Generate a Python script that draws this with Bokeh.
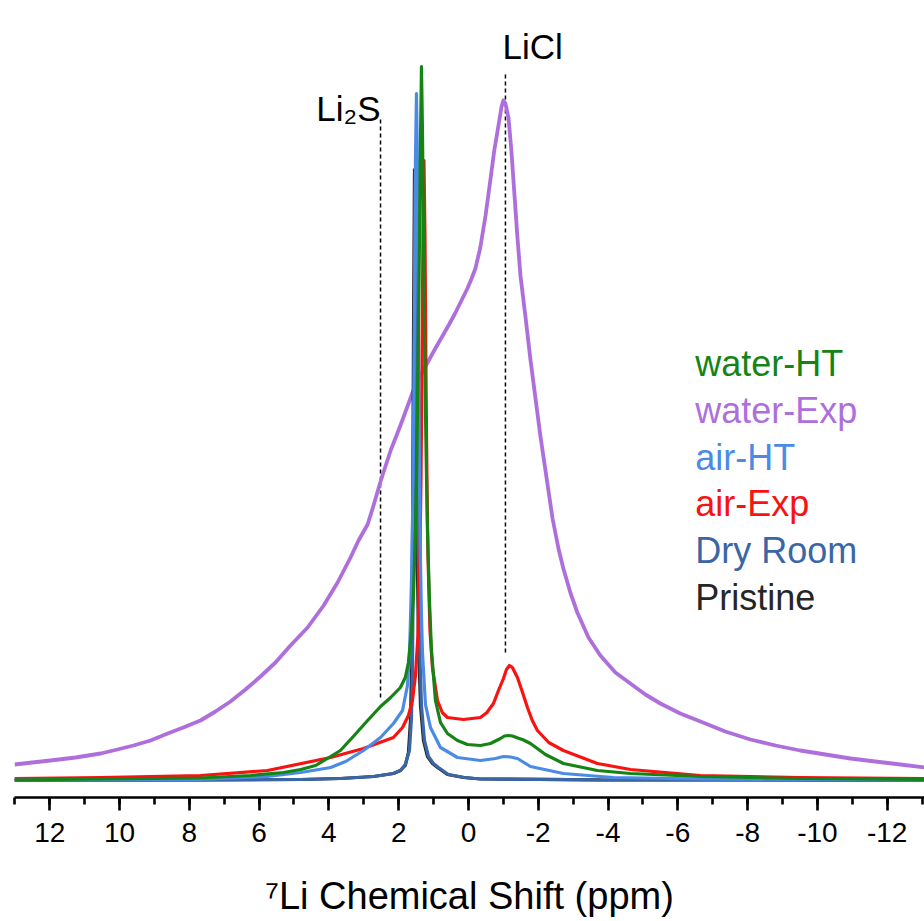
from bokeh.plotting import figure
from bokeh.models import Range1d, SingleIntervalTicker, Label, CustomJSTickFormatter
from bokeh.embed import file_html
from bokeh.resources import INLINE

# ---------------- data ----------------
# x: 7Li chemical shift (ppm); y: intensity (arbitrary units)
water_exp_ppm = [13.01, 12.50, 11.98, 11.26, 10.54, 10.06, 9.60, 9.11, 8.62, 8.17,
                 7.68, 7.25, 6.82, 6.39, 5.96, 5.53, 5.10, 4.61, 4.15, 3.75,
                 3.38, 3.15, 2.89, 2.72, 2.52, 2.23, 1.95, 1.58, 1.38, 1.17,
                 0.95, 0.72, 0.54, 0.37, 0.20, 0.03, -0.09, -0.20, -0.34, -0.49,
                 -0.63, -0.74, -0.86, -0.95, -1.00, -1.06, -1.15, -1.23, -1.32, -1.40,
                 -1.49, -1.63, -1.78, -2.06, -2.41, -2.58, -2.72, -2.92, -3.12, -3.44,
                 -3.78, -4.21, -4.64, -5.07, -5.50, -6.07, -6.65, -7.36, -8.08, -8.80,
                 -9.51, -10.23, -10.95, -11.66, -12.38, -13.07]
water_exp_int = [16, 18, 20, 23, 27, 31, 35, 40, 47, 53,
                 60, 69, 79, 91, 104, 118, 135, 153, 175, 198,
                 223, 240, 256, 275, 299, 330, 355, 390, 405, 418,
                 432, 446, 457, 468, 480, 492, 502, 512, 533, 565,
                 601, 630, 655, 674, 680, 677, 662, 630, 585, 545,
                 505, 465, 420, 345, 262, 232, 212, 188, 168, 143,
                 125, 108, 97, 86, 77, 67, 59, 49, 41, 35,
                 30, 26, 22, 19, 16, 13]

water_ht_ppm = [13.01, 10.54, 7.68, 6.25, 5.30, 4.81, 4.38, 3.95, 3.67, 3.30,
                2.89, 2.52, 2.23, 1.95, 1.81, 1.72, 1.633, 1.576, 1.519, 1.490,
                1.461, 1.433, 1.404, 1.375, 1.347, 1.318, 1.289, 1.261, 1.232, 1.203,
                1.175, 1.117, 1.060, 0.946, 0.802, 0.602, 0.315, 0.029, -0.344, -0.630,
                -0.917, -1.03, -1.146, -1.26, -1.375, -1.577, -1.777, -2.206, -2.722, -3.696,
                -4.642, -6.648, -9.513, -13.066]
water_ht_int = [0.5, 1.5, 2.5, 5, 8, 11, 15, 24, 30, 44,
                60, 74, 83, 93, 103, 118, 150, 185, 250, 300,
                370, 450, 540, 640, 714, 650, 550, 455, 370, 305,
                250, 180, 130, 80, 58, 47, 40, 36, 35, 37,
                42, 44.5, 45, 44.5, 43, 40.5, 37, 26, 17, 10,
                7, 4, 2, 1]

air_ht_ppm = [13.01, 7.68, 5.76, 4.81, 3.95, 3.52, 3.01, 2.52, 2.15, 1.89,
              1.748, 1.691, 1.662, 1.633, 1.605, 1.576, 1.547, 1.519, 1.490, 1.461,
              1.433, 1.404, 1.375, 1.347, 1.318, 1.232, 1.089, 0.802, 0.315, -0.344,
              -0.774, -1.003, -1.20, -1.404, -1.777, -2.722, -4.155, -6.648, -13.066]
air_ht_int = [0.5, 1, 4, 8, 13, 19, 30, 43, 57, 70,
              95, 125, 160, 200, 255, 340, 470, 620, 687, 615,
              445, 310, 220, 165, 128, 76, 53, 33, 23, 20,
              22, 24, 23.5, 22, 14, 7, 3, 1.5, 0.5]

air_exp_ppm = [13.01, 10.54, 7.68, 5.76, 3.95, 3.01, 2.15, 1.89, 1.72, 1.605,
               1.519, 1.447, 1.390, 1.361, 1.332, 1.304, 1.275, 1.246, 1.218, 1.189,
               1.160, 1.103, 1.032, 0.888, 0.75, 0.602, 0.143, -0.344, -0.53, -0.716,
               -0.86, -1.003, -1.09, -1.175, -1.26, -1.404, -1.55, -1.691, -1.83, -1.977,
               -2.30, -2.722, -3.696, -4.642, -6.648, -9.513, -13.066]
air_exp_int = [2, 3, 5, 10, 23, 32, 43, 53, 65, 80,
               105, 145, 225, 300, 410, 545, 620, 545, 410, 300,
               225, 150, 113, 80, 68, 63, 61, 63, 68, 77,
               90, 102, 111, 115, 113, 103, 88, 73, 60, 50,
               38, 30, 17, 11, 5, 3, 2]

dry_room_ppm = [13.01, 7.68, 4.81, 3.67, 2.72, 2.15, 1.95, 1.81, 1.691, 1.633,
                1.605, 1.576, 1.547, 1.519, 1.490, 1.461, 1.433, 1.404, 1.347, 1.261,
                1.146, 1.003, 0.860, 0.573, 0.115, -0.344, -3.782, -13.066]
dry_room_int = [0.3, 0.6, 1, 2, 4, 7, 10, 16, 30, 62,
                110, 230, 430, 600, 490, 330, 210, 140, 75, 40,
                24, 17, 13, 6, 3, 1.5, 0.7, 0.3]

pristine_ppm = [13.01, 7.68, 4.81, 3.67, 2.72, 2.15, 1.95, 1.81, 1.72, 1.662,
                1.633, 1.605, 1.576, 1.547, 1.519, 1.490, 1.461, 1.433, 1.375, 1.289,
                1.175, 1.032, 0.888, 0.602, 0.143, -0.344, -3.782, -13.066]
pristine_int = [0.3, 0.6, 1, 2, 4, 7, 10, 15, 28, 60,
                110, 230, 440, 612, 500, 330, 210, 140, 75, 40,
                24, 17, 13, 6, 3, 1.5, 0.7, 0.3]

# reference lines (Li2S, LiCl)
ref_names = ["Li\u2082S", "LiCl"]
ref_ppm = [2.52, -1.06]
ref_bottom = [83, 128]
ref_top = [663, 708]

legend_names = ["water-HT", "water-Exp", "air-HT", "air-Exp", "Dry Room", "Pristine"]
tick_interval = 2

# ---------------- styles ----------------
C_WHT = "#148414"
C_WEXP = "#ae6fdd"
C_AHT = "#4b8be6"
C_AEXP = "#f81212"
C_DRY = "#3b66a6"
C_PRI = "#262626"
legend_colors = [C_WHT, C_WEXP, C_AHT, C_AEXP, C_DRY, C_PRI]
FONT = "Liberation Sans"

p = figure(width=924, height=921, output_backend="svg", toolbar_location=None,
           x_range=Range1d(13.01, -13.07), y_range=Range1d(-17, 780),
           y_axis_location=None,
           min_border_left=14, min_border_right=0, min_border_top=0,
           min_border_bottom=124)
p.outline_line_color = None
p.xgrid.grid_line_color = None
p.ygrid.grid_line_color = None
p.background_fill_color = "white"
p.border_fill_color = "white"

ax = p.xaxis[0]
ax.ticker = SingleIntervalTicker(interval=tick_interval, num_minor_ticks=2)
ax.formatter = CustomJSTickFormatter(code="return String(Math.round(tick));")
ax.axis_line_width = 2.6
ax.axis_line_color = "black"
ax.major_tick_in = 0
ax.major_tick_out = 13
ax.major_tick_line_width = 2.6
ax.major_tick_line_color = "black"
ax.minor_tick_in = 0
ax.minor_tick_out = 7
ax.minor_tick_line_width = 2.6
ax.minor_tick_line_color = "black"
ax.major_label_text_font = FONT
ax.major_label_text_font_size = "28px"
ax.major_label_text_color = "black"
ax.major_label_standoff = 12
ax.axis_label = "\u2077Li Chemical Shift (ppm)"
ax.axis_label_text_font = FONT
ax.axis_label_text_font_size = "38px"
ax.axis_label_text_font_style = "normal"
ax.axis_label_text_color = "black"
ax.axis_label_standoff = 30

# reference dashed lines
p.segment(x0=ref_ppm, y0=ref_bottom, x1=ref_ppm, y1=ref_top,
          line_color="black", line_width=1.5, line_dash="4 3")

# spectra
p.line(water_exp_ppm, water_exp_int, line_color=C_WEXP, line_width=3.8,
       line_join="round")
p.line(pristine_ppm, pristine_int, line_color=C_PRI, line_width=3.2)
p.line(dry_room_ppm, dry_room_int, line_color=C_DRY, line_width=3.2)
p.line(air_exp_ppm, air_exp_int, line_color=C_AEXP, line_width=3.2, line_join="round")
p.line(air_ht_ppm, air_ht_int, line_color=C_AHT, line_width=3.2, line_join="round")
p.line(water_ht_ppm, water_ht_int, line_color=C_WHT, line_width=3.2, line_join="round")

# reference labels
p.add_layout(Label(x=ref_ppm[0], y=ref_top[0], x_offset=0, y_offset=9,
                   text=ref_names[0], text_align="right", text_baseline="alphabetic",
                   text_font=FONT, text_font_size="35px", text_color="black"))
p.add_layout(Label(x=ref_ppm[1], y=ref_top[1], x_offset=-3, y_offset=26,
                   text=ref_names[1], text_align="left", text_baseline="alphabetic",
                   text_font=FONT, text_font_size="35px", text_color="black"))

# legend (text only, coloured)
leg_x = -6.50
leg_y0 = 417
leg_step = 46.8
for i, (name, col) in enumerate(zip(legend_names, legend_colors)):
    p.add_layout(Label(x=leg_x, y=leg_y0 - i * leg_step, text=name,
                       text_align="left", text_baseline="alphabetic",
                       text_font=FONT, text_font_size="36px", text_color=col))

open("out.html", "w").write(file_html(p, INLINE))
